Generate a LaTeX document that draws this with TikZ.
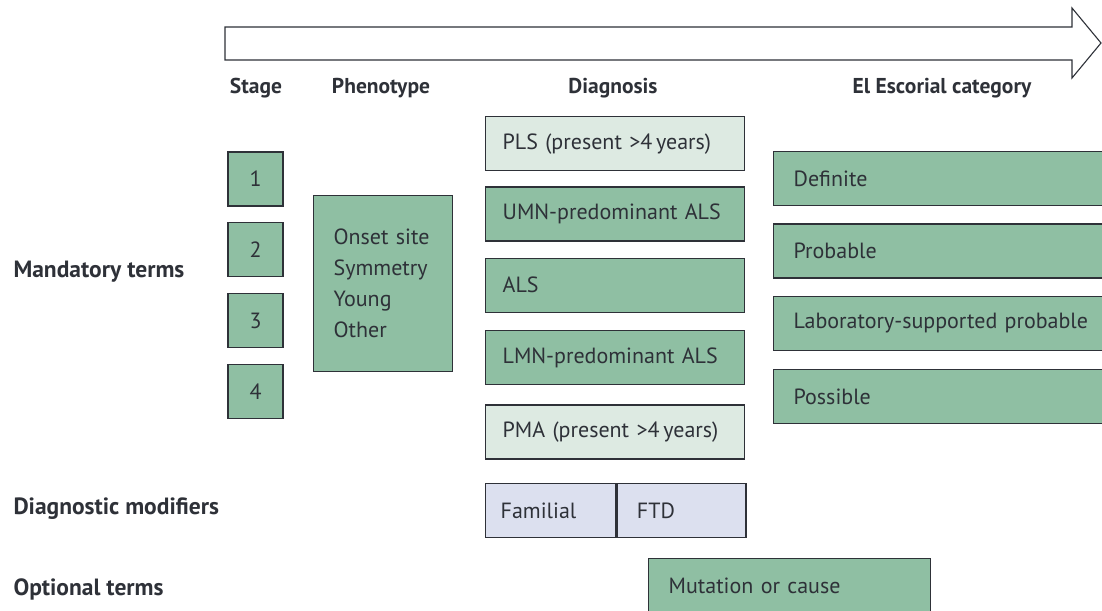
\documentclass[tikz,border=0pt]{standalone}
\usepackage{fontspec}
\setmainfont{PT Sans}
\usetikzlibrary{positioning}
\definecolor{boxgreen}{HTML}{8FBFA3}
\definecolor{palegreen}{HTML}{DDEAE2}
\definecolor{paleblue}{HTML}{DCE0EF}
\definecolor{inkgrey}{HTML}{2E3138}

\begin{document}
\begin{tikzpicture}[
  x=1pt, y=-1pt,
  font=\fontsize{22}{26}\selectfont, text=inkgrey,
  stagebox/.style={draw=inkgrey, fill=boxgreen, line width=1.3pt, minimum width=55pt, minimum height=54pt, inner sep=0pt},
  term/.style={draw=inkgrey, fill=boxgreen, line width=1.3pt, anchor=north west, minimum height=54pt, inner xsep=17pt, align=left},
  diag/.style={term, text width=225pt},
  cat/.style={term, text width=300pt, inner xsep=20pt},
  hdr/.style={font=\fontsize{21.5}{26}\selectfont\bfseries},
  rowlabel/.style={font=\fontsize{23.5}{26}\selectfont\bfseries, anchor=west}
]
\clip (0,0) rectangle (1102,610);
\useasboundingbox (0,0) rectangle (1102,610);

% time arrow
\draw[draw=inkgrey, line width=1.1pt, fill=white] (225,27) -- (1072,27) -- (1072,8) -- (1101,43)
  -- (1072,78) -- (1072,60) -- (225,60) -- cycle;

% column headers
\node[hdr] (hstage) at (256,88) {Stage};
\node[hdr] (hpheno) at (381,88) {Phenotype};
\node[hdr] (hdiag) at (613,88) {Diagnosis};
\node[hdr] (hcat) at (942,88) {El Escorial category};

% row labels
\node[rowlabel] (lmand) at (10,272) {Mandatory terms};
\node[rowlabel] (lmod) at (10,509) {Diagnostic modifiers};
\node[rowlabel] (lopt) at (10,589) {Optional terms};

% stages
\node[stagebox] (s1) at (255.5,179) {1};
\node[stagebox, below=15.5pt of s1] (s2) {2};
\node[stagebox, below=15.5pt of s2] (s3) {3};
\node[stagebox, below=15.5pt of s3] (s4) {4};

% phenotype
\node[term, minimum width=139pt, minimum height=176pt, inner xsep=20pt, text width=99pt, font=\fontsize{22}{31}\selectfont]
  (pheno) at (313,195) {Onset site\\Symmetry\\Young\\Other};

% diagnosis
\node[diag, fill=palegreen] (pls) at (485,116) {PLS (present >4\,years)};
\node[diag, below=15pt of pls.south west, anchor=north west] (umn) {UMN-predominant ALS};
\node[diag, below=16pt of umn.south west, anchor=north west] (als) {ALS};
\node[diag, below=17pt of als.south west, anchor=north west] (lmn) {LMN-predominant ALS};
\node[diag, fill=palegreen, below=19pt of lmn.south west, anchor=north west] (pma) {PMA (present >4\,years)};

% El Escorial
\node[cat] (definite) at (773,151) {Definite};
\node[cat, below=17pt of definite.south west, anchor=north west] (probable) {Probable};
\node[cat, below=17pt of probable.south west, anchor=north west] (labprob) {Laboratory-supported probable};
\node[cat, below=18pt of labprob.south west, anchor=north west] (possible) {Possible};

% modifiers
\node[term, fill=paleblue, minimum width=130pt, inner xsep=15pt, text width=100pt] (familial) at (485,483) {Familial};
\node[term, fill=paleblue, minimum width=129pt, inner xsep=20pt, text width=89pt] (ftd) at (familial.north east) {\raisebox{-6pt}{FTD}};

% optional
\node[term, minimum width=282pt, inner xsep=20pt, text width=242pt] (mutation) at (648,558) {Mutation or cause};
\end{tikzpicture}
\end{document}
